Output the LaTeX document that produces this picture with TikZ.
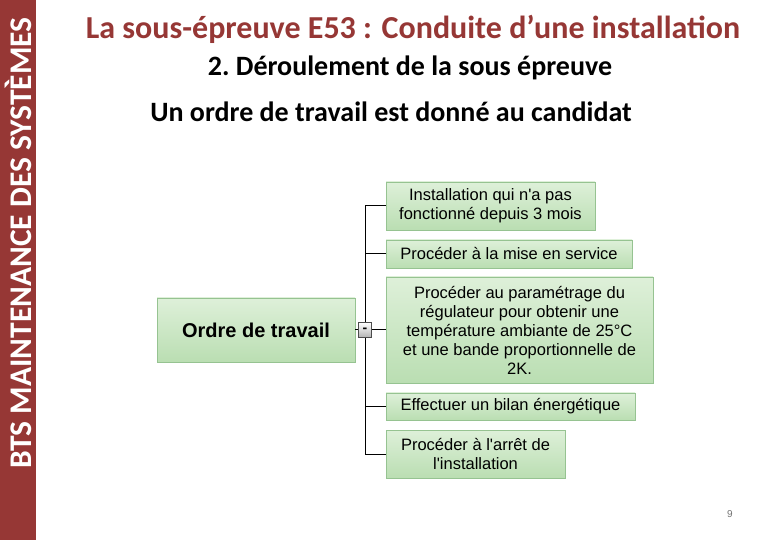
\documentclass[tikz,border=0pt]{standalone}
\usepackage{fontspec}
\setmainfont{Carlito}
\newfontfamily\arialf{Liberation Sans}
\definecolor{bordeaux}{RGB}{150,55,53}
\definecolor{boxtop}{RGB}{222,240,217}
\definecolor{boxbot}{RGB}{186,222,178}
\definecolor{boxline}{RGB}{150,195,145}
\usetikzlibrary{positioning}
\tikzset{
  greenbox/.style={draw=boxline, line width=0.8pt, top color=boxtop, bottom color=boxbot, inner sep=0pt, font=\arialf\fontsize{16.5}{19}\selectfont, align=center},
  branch/.style={draw=black, line width=1pt},
}
\begin{document}
\begin{tikzpicture}[x=1pt,y=-1pt]
\useasboundingbox (0,0) rectangle (780,540);
\fill[white] (0,0) rectangle (780,540);
\fill[bordeaux] (0,0) rectangle (36,540);
\node[rotate=90, text=white, font=\bfseries\fontsize{31.5}{33}\selectfont] (side) at (18.5,243) {BTS MAINTENANCE DES SYSTÈMES};
\node[text=bordeaux, font=\bfseries\fontsize{32}{34}\selectfont] (title) at (413,29) {La sous-épreuve E53 : Conduite d’une installation};
\node[font=\bfseries\fontsize{28}{30}\selectfont] (sub) at (410,68) {2.~Déroulement de la sous épreuve};
\node[font=\bfseries\fontsize{28}{30}\selectfont] (intro) at (391,112) {Un ordre de travail est donné au candidat};

\node[greenbox, minimum width=198, minimum height=64, font=\arialf\bfseries\fontsize{20}{22}\selectfont] (root) at (256,330) {Ordre de travail};

\node[greenbox, minimum width=209, minimum height=48] (b1) at (490.5,206) {Installation qui n'a pas\\fonctionné depuis 3 mois};
\node[greenbox, minimum width=246, minimum height=28] (b2) at (509,254) {Procéder à la mise en service};
\node[greenbox, minimum width=267, minimum height=106] (b3) at (519.5,330) {Procéder au paramétrage du\\régulateur pour obtenir une\\température ambiante de 25°C\\et une bande proportionnelle de\\2K.};
\node[greenbox, minimum width=249, minimum height=27] (b4) at (510.5,406.5) {Effectuer un bilan énergétique};
\node[greenbox, minimum width=179, minimum height=48] (b5) at (475.5,454) {Procéder à l'arrêt de\\l'installation};

\coordinate (top) at (365,206);
\coordinate (bot) at (365,454);
\draw[branch] (top) -- (bot);
\draw[branch] (root.east) -- (b3.west);
\foreach \b in {b1,b2,b4,b5} {\draw[branch] (\b.west) -- (\b.west -| top);}

\node[draw=black!70, line width=0.6pt, top color=white, bottom color=black!30, minimum width=13, minimum height=15, inner sep=0pt, font=\arialf\bfseries\fontsize{14}{14}\selectfont] (minus) at (365,330) {-};

\node[text=black!55, font=\arialf\fontsize{10}{10}\selectfont] (page) at (730,514) {9};
\end{tikzpicture}
\end{document}
